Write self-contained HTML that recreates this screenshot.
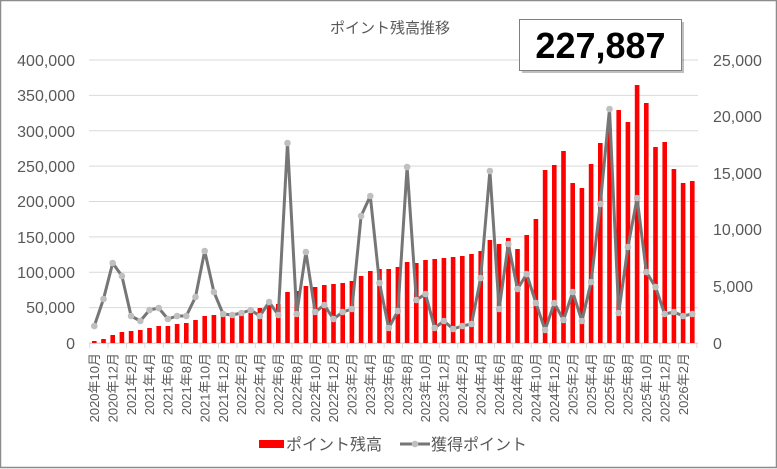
<!DOCTYPE html>
<html><head><meta charset="utf-8"><style>
html,body{margin:0;padding:0;background:#fff;}
svg{display:block;font-family:"Liberation Sans","Noto Sans CJK JP",sans-serif;}
</style></head><body>
<svg width="777" height="469" viewBox="0 0 777 469" xmlns="http://www.w3.org/2000/svg">
<rect x="0.5" y="0.5" width="776" height="467" fill="#fff" stroke="#8c8c8c" stroke-width="1.5"/>
<text x="390" y="33" font-size="15" fill="#595959" text-anchor="middle">ポイント残高推移</text>
<g stroke="#d9d9d9" stroke-width="1">
<line x1="89" x2="698" y1="60" y2="60"/><line x1="89" x2="698" y1="95.4" y2="95.4"/><line x1="89" x2="698" y1="130.8" y2="130.8"/><line x1="89" x2="698" y1="166.1" y2="166.1"/><line x1="89" x2="698" y1="201.5" y2="201.5"/><line x1="89" x2="698" y1="236.9" y2="236.9"/><line x1="89" x2="698" y1="272.3" y2="272.3"/><line x1="89" x2="698" y1="307.6" y2="307.6"/><line x1="89" x2="698" y1="343" y2="343"/>
</g>
<g font-size="16" fill="#595959" text-anchor="end">
<text x="75" y="66">400,000</text><text x="75" y="101">350,000</text><text x="75" y="137">300,000</text><text x="75" y="172">250,000</text><text x="75" y="207">200,000</text><text x="75" y="243">150,000</text><text x="75" y="278">100,000</text><text x="75" y="313">50,000</text><text x="75" y="349">0</text>
</g>
<g font-size="16" fill="#595959">
<text x="713" y="66">25,000</text><text x="713" y="122">20,000</text><text x="713" y="179">15,000</text><text x="713" y="235">10,000</text><text x="713" y="292">5,000</text><text x="713" y="349">0</text>
</g>
<g fill="#ff0000">
<rect x="92" y="341" width="4.6" height="2"/><rect x="101.2" y="339" width="4.6" height="4"/><rect x="110.4" y="335" width="4.6" height="8"/><rect x="119.6" y="332" width="4.6" height="11"/><rect x="128.8" y="331" width="4.6" height="12"/><rect x="138" y="330" width="4.6" height="13"/><rect x="147.2" y="328" width="4.6" height="15"/><rect x="156.4" y="326" width="4.6" height="17"/><rect x="165.6" y="326" width="4.6" height="17"/><rect x="174.8" y="324" width="4.6" height="19"/><rect x="184" y="323" width="4.6" height="20"/><rect x="193.2" y="320" width="4.6" height="23"/><rect x="202.4" y="316" width="4.6" height="27"/><rect x="211.6" y="315" width="4.6" height="28"/><rect x="220.8" y="315" width="4.6" height="28"/><rect x="230" y="316" width="4.6" height="27"/><rect x="239.2" y="315" width="4.6" height="28"/><rect x="248.4" y="313" width="4.6" height="30"/><rect x="257.6" y="308" width="4.6" height="35"/><rect x="266.8" y="305" width="4.6" height="38"/><rect x="276" y="304" width="4.6" height="39"/><rect x="285.2" y="292" width="4.6" height="51"/><rect x="294.4" y="291" width="4.6" height="52"/><rect x="303.6" y="286" width="4.6" height="57"/><rect x="312.8" y="287" width="4.6" height="56"/><rect x="322" y="285" width="4.6" height="58"/><rect x="331.2" y="284" width="4.6" height="59"/><rect x="340.4" y="283" width="4.6" height="60"/><rect x="349.6" y="281" width="4.6" height="62"/><rect x="358.8" y="276" width="4.6" height="67"/><rect x="368" y="271" width="4.6" height="72"/><rect x="377.2" y="269" width="4.6" height="74"/><rect x="386.4" y="269" width="4.6" height="74"/><rect x="395.6" y="267" width="4.6" height="76"/><rect x="404.8" y="262" width="4.6" height="81"/><rect x="414" y="263" width="4.6" height="80"/><rect x="423.2" y="260" width="4.6" height="83"/><rect x="432.4" y="259" width="4.6" height="84"/><rect x="441.6" y="258" width="4.6" height="85"/><rect x="450.8" y="257" width="4.6" height="86"/><rect x="460" y="256" width="4.6" height="87"/><rect x="469.2" y="254" width="4.6" height="89"/><rect x="478.4" y="251" width="4.6" height="92"/><rect x="487.6" y="240" width="4.6" height="103"/><rect x="496.8" y="244" width="4.6" height="99"/><rect x="506" y="238" width="4.6" height="105"/><rect x="515.2" y="249" width="4.6" height="94"/><rect x="524.4" y="235" width="4.6" height="108"/><rect x="533.6" y="219" width="4.6" height="124"/><rect x="542.8" y="170" width="4.6" height="173"/><rect x="552" y="165" width="4.6" height="178"/><rect x="561.2" y="151" width="4.6" height="192"/><rect x="570.4" y="183" width="4.6" height="160"/><rect x="579.6" y="188" width="4.6" height="155"/><rect x="588.8" y="164" width="4.6" height="179"/><rect x="598" y="143" width="4.6" height="200"/><rect x="607.2" y="128" width="4.6" height="215"/><rect x="616.4" y="110" width="4.6" height="233"/><rect x="625.6" y="122" width="4.6" height="221"/><rect x="634.8" y="85" width="4.6" height="258"/><rect x="644" y="103" width="4.6" height="240"/><rect x="653.2" y="147" width="4.6" height="196"/><rect x="662.4" y="142" width="4.6" height="201"/><rect x="671.6" y="169" width="4.6" height="174"/><rect x="680.8" y="183" width="4.6" height="160"/><rect x="690" y="181" width="4.6" height="162"/>
</g>
<g stroke="#d9d9d9" stroke-width="1">
<line x1="89" x2="698" y1="343.5" y2="343.5"/>
<path d="M89.7 343v5M108.1 343v5M126.5 343v5M144.9 343v5M163.3 343v5M181.7 343v5M200.1 343v5M218.5 343v5M236.9 343v5M255.3 343v5M273.7 343v5M292.1 343v5M310.5 343v5M328.9 343v5M347.3 343v5M365.7 343v5M384.1 343v5M402.5 343v5M420.9 343v5M439.3 343v5M457.7 343v5M476.1 343v5M494.5 343v5M512.9 343v5M531.3 343v5M549.7 343v5M568.1 343v5M586.5 343v5M604.9 343v5M623.3 343v5M641.7 343v5M660.1 343v5M678.5 343v5M696.9 343v5"/>
</g>
<polyline fill="none" stroke="#767676" stroke-width="3" stroke-linejoin="round" points="94.3,326 103.5,299 112.7,263 121.9,276 131.1,316 140.3,321 149.5,310 158.7,308 167.9,319 177.1,316 186.3,316 195.5,297 204.7,251 213.9,292 223.1,314 232.3,315 241.5,313 250.7,310 259.9,316 269.1,302 278.3,315 287.5,143 296.7,314 305.9,252 315.1,312 324.3,305 333.5,319 342.7,312 351.9,309 361.1,216 370.3,196 379.5,283 388.7,328 397.9,311 407.1,167 416.3,300 425.5,294 434.7,328 443.9,321 453.1,329 462.3,326 471.5,324 480.7,278 489.9,171 499.1,309 508.3,244 517.5,289 526.7,274 535.9,303 545.1,330 554.3,303 563.5,320 572.7,292 581.9,321 591.1,282 600.3,204 609.5,109 618.7,313 627.9,247 637.1,198 646.3,272 655.5,287 664.7,314 673.9,312 683.1,316 692.3,314"/>
<g fill="#bfbfbf">
<circle cx="94.3" cy="326" r="3.3"/><circle cx="103.5" cy="299" r="3.3"/><circle cx="112.7" cy="263" r="3.3"/><circle cx="121.9" cy="276" r="3.3"/><circle cx="131.1" cy="316" r="3.3"/><circle cx="140.3" cy="321" r="3.3"/><circle cx="149.5" cy="310" r="3.3"/><circle cx="158.7" cy="308" r="3.3"/><circle cx="167.9" cy="319" r="3.3"/><circle cx="177.1" cy="316" r="3.3"/><circle cx="186.3" cy="316" r="3.3"/><circle cx="195.5" cy="297" r="3.3"/><circle cx="204.7" cy="251" r="3.3"/><circle cx="213.9" cy="292" r="3.3"/><circle cx="223.1" cy="314" r="3.3"/><circle cx="232.3" cy="315" r="3.3"/><circle cx="241.5" cy="313" r="3.3"/><circle cx="250.7" cy="310" r="3.3"/><circle cx="259.9" cy="316" r="3.3"/><circle cx="269.1" cy="302" r="3.3"/><circle cx="278.3" cy="315" r="3.3"/><circle cx="287.5" cy="143" r="3.3"/><circle cx="296.7" cy="314" r="3.3"/><circle cx="305.9" cy="252" r="3.3"/><circle cx="315.1" cy="312" r="3.3"/><circle cx="324.3" cy="305" r="3.3"/><circle cx="333.5" cy="319" r="3.3"/><circle cx="342.7" cy="312" r="3.3"/><circle cx="351.9" cy="309" r="3.3"/><circle cx="361.1" cy="216" r="3.3"/><circle cx="370.3" cy="196" r="3.3"/><circle cx="379.5" cy="283" r="3.3"/><circle cx="388.7" cy="328" r="3.3"/><circle cx="397.9" cy="311" r="3.3"/><circle cx="407.1" cy="167" r="3.3"/><circle cx="416.3" cy="300" r="3.3"/><circle cx="425.5" cy="294" r="3.3"/><circle cx="434.7" cy="328" r="3.3"/><circle cx="443.9" cy="321" r="3.3"/><circle cx="453.1" cy="329" r="3.3"/><circle cx="462.3" cy="326" r="3.3"/><circle cx="471.5" cy="324" r="3.3"/><circle cx="480.7" cy="278" r="3.3"/><circle cx="489.9" cy="171" r="3.3"/><circle cx="499.1" cy="309" r="3.3"/><circle cx="508.3" cy="244" r="3.3"/><circle cx="517.5" cy="289" r="3.3"/><circle cx="526.7" cy="274" r="3.3"/><circle cx="535.9" cy="303" r="3.3"/><circle cx="545.1" cy="330" r="3.3"/><circle cx="554.3" cy="303" r="3.3"/><circle cx="563.5" cy="320" r="3.3"/><circle cx="572.7" cy="292" r="3.3"/><circle cx="581.9" cy="321" r="3.3"/><circle cx="591.1" cy="282" r="3.3"/><circle cx="600.3" cy="204" r="3.3"/><circle cx="609.5" cy="109" r="3.3"/><circle cx="618.7" cy="313" r="3.3"/><circle cx="627.9" cy="247" r="3.3"/><circle cx="637.1" cy="198" r="3.3"/><circle cx="646.3" cy="272" r="3.3"/><circle cx="655.5" cy="287" r="3.3"/><circle cx="664.7" cy="314" r="3.3"/><circle cx="673.9" cy="312" r="3.3"/><circle cx="683.1" cy="316" r="3.3"/><circle cx="692.3" cy="314" r="3.3"/>
</g>
<g font-size="13" fill="#595959" text-anchor="end">
<text transform="translate(99,353) rotate(-90)">2020年10月</text>
<text transform="translate(117.4,353) rotate(-90)">2020年12月</text>
<text transform="translate(135.8,353) rotate(-90)">2021年2月</text>
<text transform="translate(154.2,353) rotate(-90)">2021年4月</text>
<text transform="translate(172.6,353) rotate(-90)">2021年6月</text>
<text transform="translate(191,353) rotate(-90)">2021年8月</text>
<text transform="translate(209.4,353) rotate(-90)">2021年10月</text>
<text transform="translate(227.8,353) rotate(-90)">2021年12月</text>
<text transform="translate(246.2,353) rotate(-90)">2022年2月</text>
<text transform="translate(264.6,353) rotate(-90)">2022年4月</text>
<text transform="translate(283,353) rotate(-90)">2022年6月</text>
<text transform="translate(301.4,353) rotate(-90)">2022年8月</text>
<text transform="translate(319.8,353) rotate(-90)">2022年10月</text>
<text transform="translate(338.2,353) rotate(-90)">2022年12月</text>
<text transform="translate(356.6,353) rotate(-90)">2023年2月</text>
<text transform="translate(375,353) rotate(-90)">2023年4月</text>
<text transform="translate(393.4,353) rotate(-90)">2023年6月</text>
<text transform="translate(411.8,353) rotate(-90)">2023年8月</text>
<text transform="translate(430.2,353) rotate(-90)">2023年10月</text>
<text transform="translate(448.6,353) rotate(-90)">2023年12月</text>
<text transform="translate(467,353) rotate(-90)">2024年2月</text>
<text transform="translate(485.4,353) rotate(-90)">2024年4月</text>
<text transform="translate(503.8,353) rotate(-90)">2024年6月</text>
<text transform="translate(522.2,353) rotate(-90)">2024年8月</text>
<text transform="translate(540.6,353) rotate(-90)">2024年10月</text>
<text transform="translate(559,353) rotate(-90)">2024年12月</text>
<text transform="translate(577.4,353) rotate(-90)">2025年2月</text>
<text transform="translate(595.8,353) rotate(-90)">2025年4月</text>
<text transform="translate(614.2,353) rotate(-90)">2025年6月</text>
<text transform="translate(632.6,353) rotate(-90)">2025年8月</text>
<text transform="translate(651,353) rotate(-90)">2025年10月</text>
<text transform="translate(669.4,353) rotate(-90)">2025年12月</text>
<text transform="translate(687.8,353) rotate(-90)">2026年2月</text>
</g>
<rect x="259" y="440" width="25" height="8" fill="#ff0000"/>
<text x="286" y="450" font-size="16" fill="#595959">ポイント残高</text>
<line x1="400" x2="430" y1="444" y2="444" stroke="#767676" stroke-width="3"/>
<circle cx="415" cy="444" r="3.3" fill="#bfbfbf"/>
<text x="431" y="450" font-size="16" fill="#595959">獲得ポイント</text>
<rect x="522" y="22" width="162" height="51" fill="#000" opacity="0.25"/>
<rect x="519.5" y="19.5" width="162" height="51" fill="#fff" stroke="#7f7f7f" stroke-width="1"/>
<text x="600.5" y="58" font-size="36" font-weight="bold" fill="#000" text-anchor="middle">227,887</text>
</svg>
</body></html>
